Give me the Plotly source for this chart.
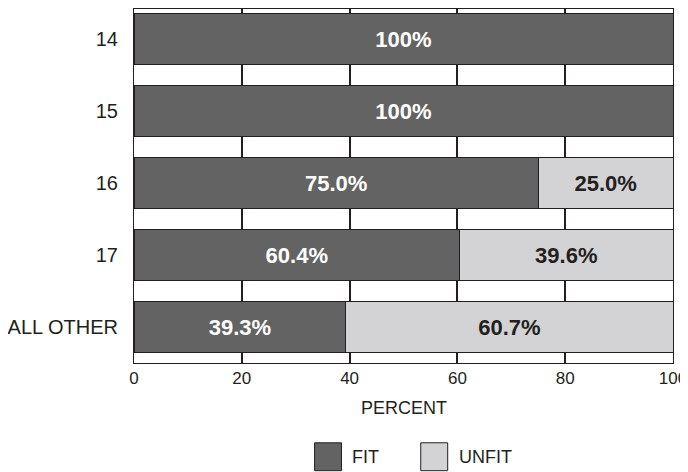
import plotly.graph_objects as go

categories = ["14", "15", "16", "17", "ALL OTHER"]
fit_pct = [100.0, 100.0, 75.0, 60.4, 39.3]
unfit_pct = [0.0, 0.0, 25.0, 39.6, 60.7]
x_ticks = [0, 20, 40, 60, 80, 100]
legend_names = ["FIT", "UNFIT"]

DARK = "#636363"
LIGHT = "#d3d3d5"
INK = "#231f20"
FONT = "Liberation Sans, Arial, Helvetica, sans-serif"


def lbl(v):
    if v == 0:
        return ""
    if v == 100:
        return "100%"
    return f"{v:.1f}%"


fig = go.Figure()
fig.add_trace(go.Bar(
    y=categories, x=fit_pct, orientation="h", name=legend_names[0],
    marker=dict(color=DARK, line=dict(color=INK, width=1)),
    text=[lbl(v) for v in fit_pct], textposition="inside",
    insidetextanchor="middle", textangle=0, constraintext="none",
    textfont=dict(family=FONT, size=22, color="white", weight="bold"),
    showlegend=False,
))
fig.add_trace(go.Bar(
    y=categories, x=unfit_pct, orientation="h", name=legend_names[1],
    marker=dict(color=LIGHT, line=dict(color=INK, width=1)),
    text=[lbl(v) for v in unfit_pct], textposition="inside",
    insidetextanchor="middle", textangle=0, constraintext="none",
    textfont=dict(family=FONT, size=22, color=INK, weight="bold"),
    showlegend=False,
))

# Legend drawn manually (large square swatches)
shapes = []
annotations = []
for i, (name, col) in enumerate(zip(legend_names, [DARK, LIGHT])):
    x0 = [0.335, 0.532][i]
    shapes.append(dict(type="rect", xref="paper", yref="paper",
                       x0=x0, x1=x0 + 0.050, y0=-0.3042, y1=-0.2254,
                       fillcolor=col, line=dict(color=INK, width=1)))
    annotations.append(dict(text=name, xref="paper", yref="paper",
                            x=[0.4015, 0.5985][i], y=-0.2648,
                            xanchor="left", yanchor="middle", showarrow=False,
                            font=dict(family=FONT, size=18, color=INK)))

annotations.append(dict(text="PERCENT", xref="paper", yref="paper",
                        x=0.5, y=-0.1268, xanchor="center", yanchor="middle",
                        showarrow=False, font=dict(family=FONT, size=18, color=INK)))

fig.update_layout(
    width=680, height=464,
    margin=dict(l=122, r=15, t=0, b=109),
    barmode="stack", bargap=0.28,
    plot_bgcolor="white", paper_bgcolor="white",
    font=dict(family=FONT, size=17, color=INK),
    shapes=shapes, annotations=annotations,
    xaxis=dict(range=[0, 100], tickvals=x_ticks, ticks="",
               showgrid=True, gridcolor=INK, gridwidth=2,
               zeroline=False, showline=True, linecolor=INK, linewidth=1,
               mirror=True, tickfont=dict(size=17, color=INK)),
    yaxis=dict(range=[4.5, -0.417], ticks="", showgrid=False,
               showline=True, linecolor=INK, linewidth=1, mirror=True,
               ticklabelstandoff=11,
               tickfont=dict(size=20, color=INK)),
)

fig.write_html("out.html")
